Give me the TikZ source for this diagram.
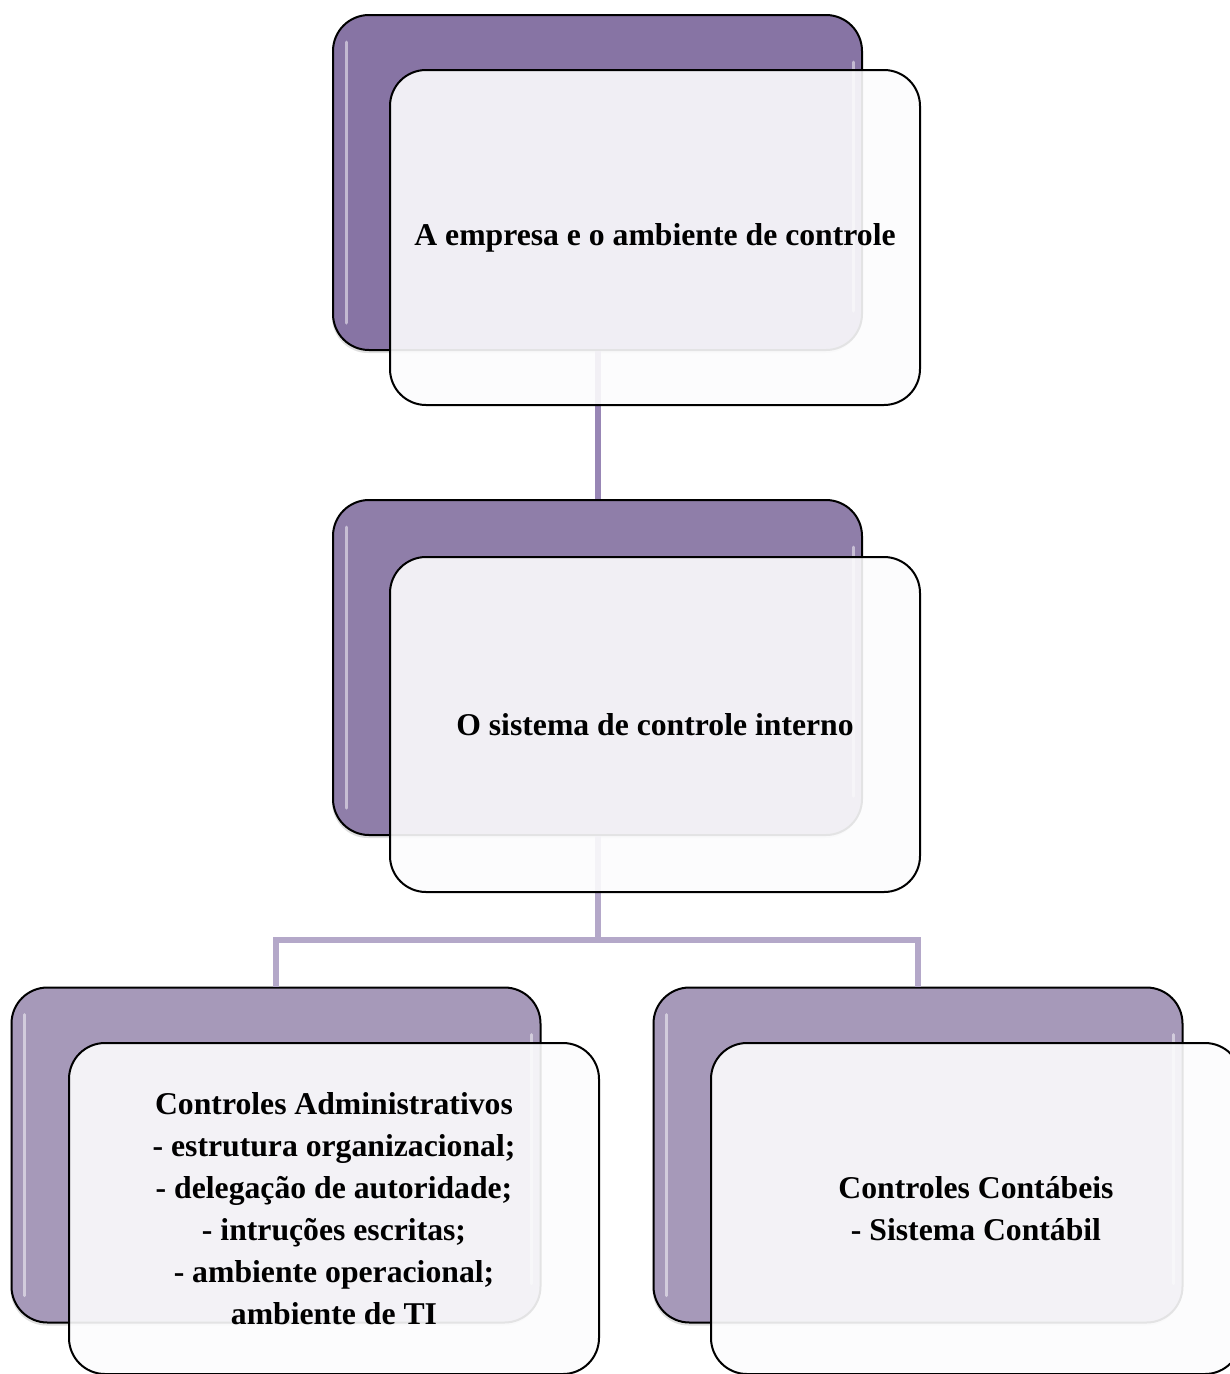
\documentclass[tikz,border=0pt]{standalone}
\usepackage{fontspec}
\setmainfont{Liberation Serif}
\usetikzlibrary{shadows}
\definecolor{pA}{HTML}{8774A4}
\definecolor{pB}{HTML}{8F7EA9}
\definecolor{pC}{HTML}{A699B9}
\definecolor{lnA}{HTML}{9886B5}
\definecolor{lnB}{HTML}{B4A8C9}
\definecolor{frontfill}{HTML}{FCFCFD}
\tikzset{
  backbox/.style={draw=black, line width=2pt, rounded corners=36pt, minimum width=529pt, minimum height=335pt, inner sep=0pt,
    drop shadow={opacity=0.25, shadow xshift=-1pt, shadow yshift=-3pt}},
  frontbox/.style={draw=black, line width=2pt, rounded corners=36pt, fill=frontfill, fill opacity=0.9, text opacity=1,
    minimum width=530pt, minimum height=335pt, inner sep=0pt, align=center,
    font=\fontsize{31.7}{42}\selectfont\bfseries},
  conn/.style={line width=6pt},
  hl/.style={white, opacity=0.5, line width=3pt, line cap=round},
}
\begin{document}
\begin{tikzpicture}[x=1pt,y=-1pt]
\useasboundingbox (0,0) rectangle (1230,1374);
\fill[white] (0,0) rectangle (1230,1374);
% junction
\coordinate (j) at (597.5,940);
% back boxes
\path node[backbox, fill=pA] (b1) at (597.5,182.5) {};
\path node[backbox, fill=pB] (b2) at (597.5,667.5) {};
\path node[backbox, fill=pC] (b3) at (276,1155) {};
\path node[backbox, fill=pC] (b4) at (918,1155) {};
% highlights on back boxes
\foreach \b in {b1,b2,b3,b4}{
  \draw[hl] ([xshift=14pt,yshift=-28pt]\b.north west) -- ([xshift=14pt,yshift=28pt]\b.south west);
  \draw[hl] ([xshift=-10pt,yshift=-48pt]\b.north east) -- ([xshift=-10pt,yshift=40pt]\b.south east);
}
% connectors
\draw[conn, lnA] (b1.south) -- (b2.north);
\draw[conn, lnB] (b2.south) -- (j);
\draw[conn, lnB, line join=miter] (j) -| (b3.north);
\draw[conn, lnB, line join=miter] (j) -| (b4.north);
% front boxes
\node[frontbox] (f1) at (655,237.5) {A empresa e o ambiente de controle};
\node[frontbox] (f2) at (655,724.5) {O sistema de controle interno};
\node[frontbox, minimum height=331pt] (f3) at (334,1208.5) {Controles Administrativos\\- estrutura organizacional;\\- delegação de autoridade;\\- intruções escritas;\\- ambiente operacional;\\ambiente de TI};
\node[frontbox, minimum height=331pt] (f4) at (976,1208.5) {Controles Contábeis\\- Sistema Contábil};
\end{tikzpicture}
\end{document}
